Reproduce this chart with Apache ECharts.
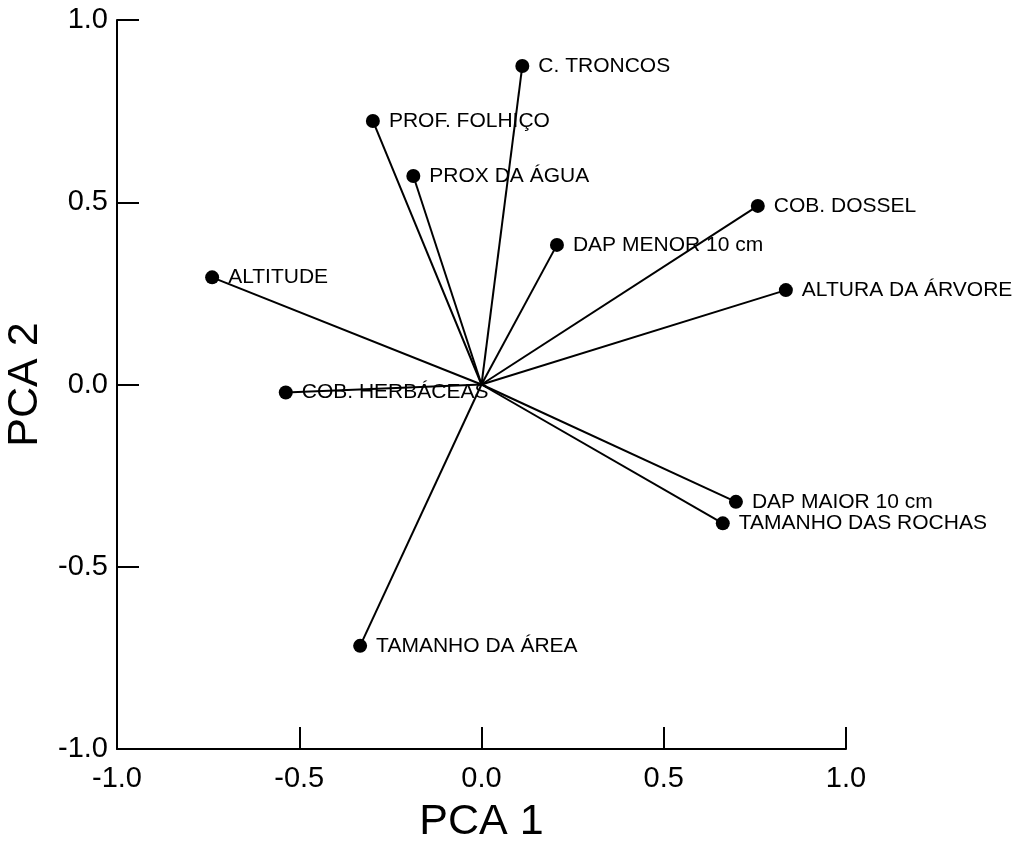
<!DOCTYPE html>
<html>
<head>
<meta charset="utf-8">
<script src="https://cdn.jsdelivr.net/npm/echarts@6/dist/echarts.min.js"></script>
<style>
  html, body { margin: 0; padding: 0; background: #fff; }
  #chart { width: 1021px; height: 845px; }
</style>
</head>
<body>
<div id="chart"></div>
<script>
// variable names and loadings (PCA 1, PCA 2)
var names = [
  "C. TRONCOS", "PROF. FOLHIÇO", "PROX DA ÁGUA", "COB. DOSSEL",
  "DAP MENOR 10 cm", "ALTITUDE", "ALTURA DA ÁRVORE", "COB. HERBÁCEAS",
  "DAP MAIOR 10 cm", "TAMANHO DAS ROCHAS", "TAMANHO DA ÁREA"
];
var pca1 = [0.112, -0.298, -0.187, 0.758, 0.207, -0.739, 0.835, -0.537, 0.698, 0.662, -0.333];
var pca2 = [0.874, 0.723, 0.572, 0.490, 0.383, 0.294, 0.259, -0.022, -0.322, -0.381, -0.717];
var ticks = [-1.0, -0.5, 0.0, 0.5, 1.0];

var font = "'Liberation Sans', Arial, sans-serif";
var chart = echarts.init(document.getElementById("chart"));

var vectors = names.map(function (n, i) {
  return {
    type: "line",
    data: [[0, 0], [pca1[i], pca2[i]]],
    symbol: "none",
    silent: true,
    lineStyle: { color: "#000", width: 2, opacity: 1 },
    z: 2
  };
});

var axisCommon = {
  type: "value",
  min: ticks[0],
  max: ticks[ticks.length - 1],
  interval: 0.5,
  nameLocation: "middle",
  nameTextStyle: { color: "#000", fontSize: 43, fontFamily: font },
  axisLine: { show: true, onZero: false, lineStyle: { color: "#000", width: 2 } },
  axisTick: { show: true, inside: true, length: 22, lineStyle: { color: "#000", width: 2 } },
  axisLabel: {
    color: "#000",
    fontSize: 29,
    fontFamily: font,
    formatter: function (v) { return v.toFixed(1); }
  },
  splitLine: { show: false }
};

chart.setOption({
  backgroundColor: "#fff",
  animation: false,
  grid: { left: 117, right: 175, top: 20, bottom: 96, containLabel: false, outerBoundsMode: "none" },
  xAxis: Object.assign({}, axisCommon, {
    name: "PCA 1",
    nameGap: 52,
    axisLabel: Object.assign({}, axisCommon.axisLabel, { margin: 15 })
  }),
  yAxis: Object.assign({}, axisCommon, {
    name: "PCA 2",
    nameGap: 55,
    axisLabel: Object.assign({}, axisCommon.axisLabel, { margin: 9 })
  }),
  series: vectors.concat([
    {
      type: "scatter",
      data: names.map(function (n, i) { return { name: n, value: [pca1[i], pca2[i]] }; }),
      symbol: "circle",
      symbolSize: 14,
      itemStyle: { color: "#000", opacity: 1 },
      label: {
        show: true,
        position: "right",
        distance: 9,
        formatter: "{b}",
        color: "#000",
        opacity: 1,
        fontSize: 21,
        fontFamily: font
      },
      z: 3
    }
  ])
});
</script>
</body>
</html>
